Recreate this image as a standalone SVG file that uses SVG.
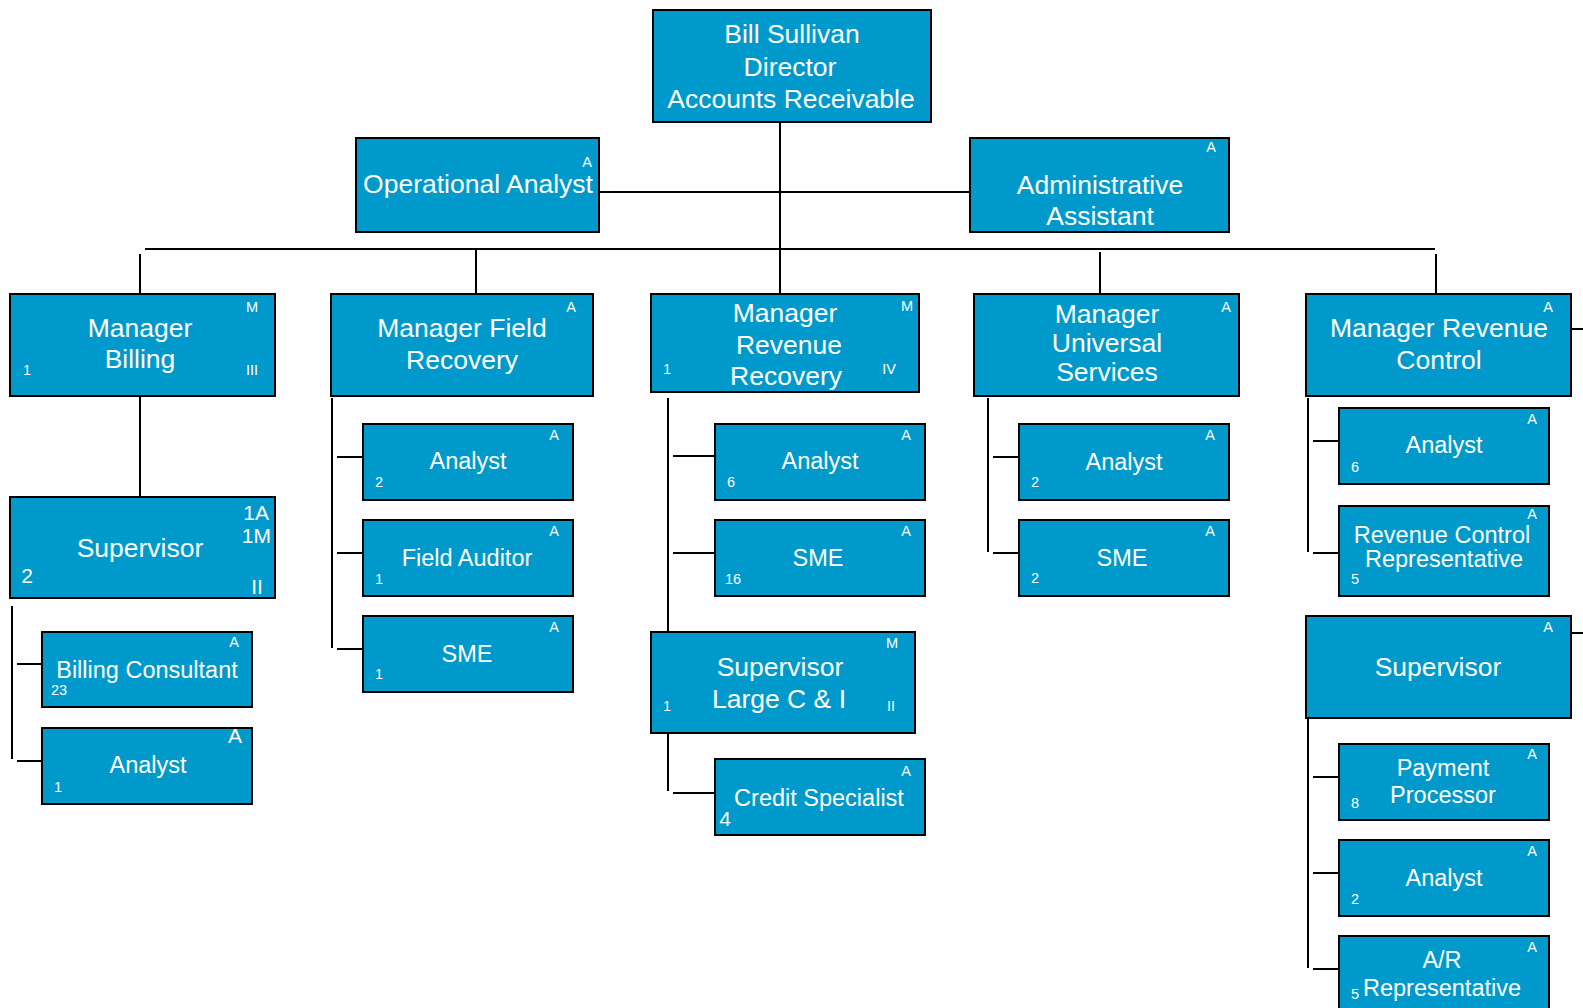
<svg xmlns="http://www.w3.org/2000/svg" width="1583" height="1008" viewBox="0 0 1583 1008">
<style>
.box{fill:#0099CC;stroke:#000;stroke-width:2}
text{font-family:"Liberation Sans",Arial,sans-serif;fill:#fff;text-anchor:middle}
.big{font-size:26.5px}
.mid{font-size:23.5px}
.sm{font-size:14.5px}
.lg{font-size:21px}
.st{text-anchor:start}
.en{text-anchor:end}
#connectors line{stroke:#000;stroke-width:2}
</style>
<rect width="1583" height="1008" fill="#fff"/>
<g id="connectors">
<line x1="780" y1="122" x2="780" y2="294"/>
<line x1="599" y1="192" x2="970" y2="192"/>
<line x1="145" y1="249" x2="1435" y2="249"/>
<line x1="140" y1="254" x2="140" y2="294"/>
<line x1="476" y1="249" x2="476" y2="294"/>
<line x1="1100" y1="252" x2="1100" y2="294"/>
<line x1="1436" y1="254" x2="1436" y2="294"/>
<line x1="1571" y1="329" x2="1583" y2="329"/>
<line x1="1571" y1="633" x2="1583" y2="633"/>
<line x1="140" y1="396" x2="140" y2="497"/>
<line x1="12" y1="606" x2="12" y2="759"/>
<line x1="17" y1="664" x2="42" y2="664"/>
<line x1="17" y1="761" x2="42" y2="761"/>
<line x1="332" y1="398" x2="332" y2="648"/>
<line x1="337" y1="457" x2="363" y2="457"/>
<line x1="337" y1="553" x2="363" y2="553"/>
<line x1="337" y1="649" x2="363" y2="649"/>
<line x1="668" y1="398" x2="668" y2="632"/>
<line x1="673" y1="456" x2="715" y2="456"/>
<line x1="673" y1="553" x2="715" y2="553"/>
<line x1="668" y1="733" x2="668" y2="791"/>
<line x1="673" y1="793" x2="715" y2="793"/>
<line x1="988" y1="398" x2="988" y2="552"/>
<line x1="993" y1="457" x2="1019" y2="457"/>
<line x1="993" y1="553" x2="1019" y2="553"/>
<line x1="1308" y1="398" x2="1308" y2="552"/>
<line x1="1313" y1="441" x2="1339" y2="441"/>
<line x1="1313" y1="553" x2="1339" y2="553"/>
<line x1="1308" y1="718" x2="1308" y2="968"/>
<line x1="1313" y1="777" x2="1339" y2="777"/>
<line x1="1313" y1="873" x2="1339" y2="873"/>
<line x1="1313" y1="969" x2="1339" y2="969"/>
</g>
<g id="director"><rect class="box" x="653" y="10" width="278" height="112"/>
<text class="big" x="792" y="43">Bill Sullivan</text><text class="big" x="790" y="76">Director</text><text class="big" x="791" y="108">Accounts Receivable</text></g>
<g id="opAnalyst"><rect class="box" x="356" y="138" width="243" height="94"/>
<text class="sm" x="587" y="167">A</text><text class="big" x="478" y="193">Operational Analyst</text></g>
<g id="admin"><rect class="box" x="970" y="138" width="259" height="94"/>
<text class="sm" x="1211" y="152">A</text><text class="big" x="1100" y="194">Administrative</text><text class="big" x="1100" y="225">Assistant</text></g>
<g id="mgrBilling"><rect class="box" x="10" y="294" width="265" height="102"/>
<text class="sm" x="252" y="312">M</text><text class="big" x="140" y="337">Manager</text><text class="big" x="140" y="368">Billing</text>
<text class="sm" x="27" y="375">1</text><text class="sm" x="252" y="375">III</text></g>
<g id="mgrField"><rect class="box" x="331" y="294" width="262" height="102"/>
<text class="sm" x="571" y="312">A</text><text class="big" x="462" y="337">Manager Field</text><text class="big" x="462" y="369">Recovery</text></g>
<g id="mgrRevRec"><rect class="box" x="651" y="294" width="268" height="98"/>
<text class="sm" x="907" y="311">M</text><text class="big" x="785" y="322">Manager</text><text class="big" x="789" y="353.5">Revenue</text><text class="big" x="786" y="385">Recovery</text>
<text class="sm" x="667" y="374">1</text><text class="sm" x="889" y="374">IV</text></g>
<g id="mgrUniv"><rect class="box" x="974" y="294" width="265" height="102"/>
<text class="sm" x="1226" y="312">A</text><text class="big" x="1107" y="323">Manager</text><text class="big" x="1107" y="352">Universal</text><text class="big" x="1107" y="381">Services</text></g>
<g id="mgrRevCtrl"><rect class="box" x="1306" y="294" width="265" height="102"/>
<text class="sm" x="1548" y="312">A</text><text class="big" x="1439" y="337">Manager Revenue</text><text class="big" x="1439" y="369">Control</text></g>
<g id="billSup"><rect class="box" x="10" y="497" width="265" height="101"/>
<text class="lg en" x="269" y="520">1A</text><text class="lg en" x="271" y="543">1M</text><text class="big" x="140" y="557">Supervisor</text>
<text class="lg" x="27" y="583">2</text><text class="lg" x="257" y="594">II</text></g>
<g id="billCons"><rect class="box" x="42" y="632" width="210" height="75"/>
<text class="sm" x="234" y="647">A</text><text class="mid" x="147" y="678">Billing Consultant</text><text class="sm st" x="51" y="695">23</text></g>
<g id="billAnalyst"><rect class="box" x="42" y="728" width="210" height="76"/>
<text class="lg" x="235" y="743">A</text><text class="mid" x="148" y="773">Analyst</text><text class="sm" x="58" y="792">1</text></g>
<g id="mfrAnalyst"><rect class="box" x="363" y="424" width="210" height="76"/>
<text class="sm" x="554" y="440">A</text><text class="mid" x="468" y="469">Analyst</text><text class="sm" x="379" y="487">2</text></g>
<g id="mfrAuditor"><rect class="box" x="363" y="520" width="210" height="76"/>
<text class="sm" x="554" y="536">A</text><text class="mid" x="467" y="566">Field Auditor</text><text class="sm" x="379" y="584">1</text></g>
<g id="mfrSME"><rect class="box" x="363" y="616" width="210" height="76"/>
<text class="sm" x="554" y="632">A</text><text class="mid" x="467" y="662">SME</text><text class="sm" x="379" y="679">1</text></g>
<g id="mrrAnalyst"><rect class="box" x="715" y="424" width="210" height="76"/>
<text class="sm" x="906" y="440">A</text><text class="mid" x="820" y="469">Analyst</text><text class="sm" x="731" y="487">6</text></g>
<g id="mrrSME"><rect class="box" x="715" y="520" width="210" height="76"/>
<text class="sm" x="906" y="536">A</text><text class="mid" x="818" y="566">SME</text><text class="sm" x="733" y="584">16</text></g>
<g id="mrrSupLarge"><rect class="box" x="651" y="632" width="264" height="101"/>
<text class="sm" x="892" y="648">M</text><text class="big" x="780" y="676">Supervisor</text><text class="big" x="779" y="708">Large C &amp; I</text>
<text class="sm" x="667" y="711">1</text><text class="sm" x="891" y="711">II</text></g>
<g id="creditSpec"><rect class="box" x="715" y="759" width="210" height="76"/>
<text class="sm" x="906" y="776">A</text><text class="mid" x="819" y="806">Credit Specialist</text><text class="lg" x="725" y="826">4</text></g>
<g id="musAnalyst"><rect class="box" x="1019" y="424" width="210" height="76"/>
<text class="sm" x="1210" y="440">A</text><text class="mid" x="1124" y="470">Analyst</text><text class="sm" x="1035" y="487">2</text></g>
<g id="musSME"><rect class="box" x="1019" y="520" width="210" height="76"/>
<text class="sm" x="1210" y="536">A</text><text class="mid" x="1122" y="566">SME</text><text class="sm" x="1035" y="583">2</text></g>
<g id="mrcAnalyst"><rect class="box" x="1339" y="408" width="210" height="76"/>
<text class="sm" x="1532" y="424">A</text><text class="mid" x="1444" y="453">Analyst</text><text class="sm" x="1355" y="472">6</text></g>
<g id="mrcRep"><rect class="box" x="1339" y="506" width="210" height="90"/>
<text class="sm" x="1532" y="519">A</text><text class="mid" x="1442" y="543">Revenue Control</text><text class="mid" x="1444" y="567">Representative</text><text class="sm" x="1355" y="584">5</text></g>
<g id="mrcSup"><rect class="box" x="1306" y="616" width="265" height="102"/>
<text class="sm" x="1548" y="632">A</text><text class="big" x="1438" y="676">Supervisor</text></g>
<g id="payProc"><rect class="box" x="1339" y="744" width="210" height="76"/>
<text class="sm" x="1532" y="759">A</text><text class="mid" x="1443" y="776">Payment</text><text class="mid" x="1443" y="803">Processor</text><text class="sm" x="1355" y="808">8</text></g>
<g id="mrcAnalyst2"><rect class="box" x="1339" y="840" width="210" height="76"/>
<text class="sm" x="1532" y="856">A</text><text class="mid" x="1444" y="886">Analyst</text><text class="sm" x="1355" y="904">2</text></g>
<g id="arRep"><rect class="box" x="1339" y="936" width="210" height="80"/>
<text class="sm" x="1532" y="952">A</text><text class="mid" x="1442" y="968">A/R</text><text class="mid" x="1442" y="996">Representative</text><text class="sm" x="1355" y="999">5</text></g>
</svg>
